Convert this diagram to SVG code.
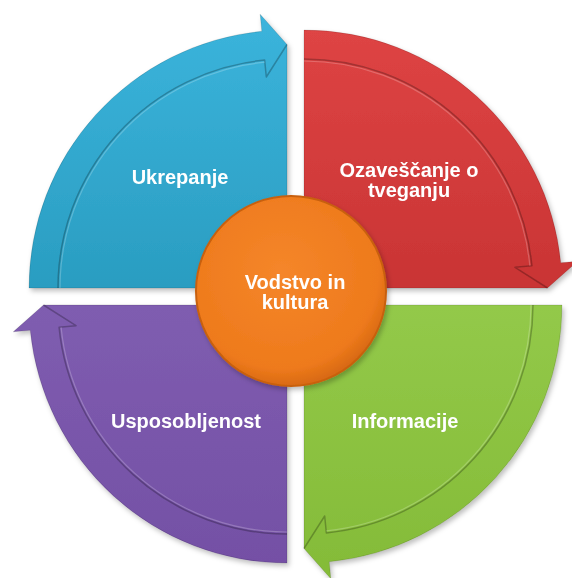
<svg xmlns="http://www.w3.org/2000/svg" width="572" height="578" viewBox="0 0 572 578">
  <defs>
    <filter id="shadow" x="-10%" y="-10%" width="125%" height="125%">
      <feDropShadow dx="2" dy="3" stdDeviation="2.5" flood-color="#000" flood-opacity="0.25"/>
    </filter>
    <linearGradient id="gBlue" x1="0" y1="0" x2="0" y2="1">
      <stop offset="0" stop-color="#3BB4DC"/>
      <stop offset="1" stop-color="#2A9DC1"/>
    </linearGradient>
    <linearGradient id="gRed" x1="0" y1="0" x2="0" y2="1">
      <stop offset="0" stop-color="#DE4444"/>
      <stop offset="1" stop-color="#C93434"/>
    </linearGradient>
    <linearGradient id="gGreen" x1="0" y1="0" x2="0" y2="1">
      <stop offset="0" stop-color="#93C949"/>
      <stop offset="1" stop-color="#84BB38"/>
    </linearGradient>
    <linearGradient id="gPurple" x1="0" y1="0" x2="0" y2="1">
      <stop offset="0" stop-color="#7F5DB0"/>
      <stop offset="1" stop-color="#7450A5"/>
    </linearGradient>
    <radialGradient id="gOrange" cx="0.45" cy="0.4" r="0.6">
      <stop offset="0" stop-color="#F5862A"/>
      <stop offset="0.85" stop-color="#EE7A1C"/>
      <stop offset="1" stop-color="#D96A12"/>
    </radialGradient>
  </defs>
  <style>
    .groove { fill: none; stroke: #000; stroke-opacity: 0.25; stroke-width: 1.5; stroke-linejoin: round; }
    .shine { fill: none; stroke: #fff; stroke-opacity: 0.22; stroke-width: 1.2; }
    .edge { stroke: #000; stroke-opacity: 0.12; stroke-width: 1; stroke-linejoin: round; }
    .label { font-family: "Liberation Sans", Arial, sans-serif; font-weight: bold; font-size: 20px; fill: #FFFFFF; text-anchor: middle; }
  </style>

  <g id="ukrepanje" filter="url(#shadow)">
    <path class="edge" fill="url(#gBlue)" d="M287,288 L29,288 A258,258 0 0 1 261.82,31.23 L260.16,14.31 L287,44.5 Z"/>
    <path class="groove" d="M58,288 A229,229 0 0 1 264.65,60.09 L266.31,77.01 L287,44.5"/>
    <path class="shine" d="M60,288 A227,227 0 0 1 264.8,62.1"/>
    <text class="label" x="180" y="184">Ukrepanje</text>
  </g>

  <g id="ozavescanje" filter="url(#shadow)">
    <path class="edge" fill="url(#gRed)" d="M304,288 L304,30 A258,258 0 0 1 560.77,262.82 L577.69,261.16 L547.5,288 Z"/>
    <path class="groove" d="M304,59 A229,229 0 0 1 531.91,265.65 L514.99,267.31 L547.5,288"/>
    <path class="shine" d="M304,61 A227,227 0 0 1 529.9,265.8"/>
    <text class="label" x="409" y="177">Ozaveščanje o</text>
    <text class="label" x="409" y="197">tveganju</text>
  </g>

  <g id="informacije" filter="url(#shadow)">
    <path class="edge" fill="url(#gGreen)" d="M304,305 L562,305 A258,258 0 0 1 329.18,561.77 L330.84,578.69 L304,548.5 Z"/>
    <path class="groove" d="M533,305 A229,229 0 0 1 326.35,532.91 L324.69,515.99 L304,548.5"/>
    <path class="shine" d="M531,305 A227,227 0 0 1 326.2,530.9"/>
    <text class="label" x="405" y="428">Informacije</text>
  </g>

  <g id="usposobljenost" filter="url(#shadow)">
    <path class="edge" fill="url(#gPurple)" d="M287,305 L287,563 A258,258 0 0 1 30.23,330.18 L13.31,331.84 L43.5,305 Z"/>
    <path class="groove" d="M287,534 A229,229 0 0 1 59.09,327.35 L76.01,325.69 L43.5,305"/>
    <path class="shine" d="M287,532 A227,227 0 0 1 61.1,327.2"/>
    <text class="label" x="186" y="428">Usposobljenost</text>
  </g>

  <g id="vodstvo" filter="url(#shadow)">
    <circle cx="291" cy="291" r="95" fill="url(#gOrange)" stroke="#C8600F" stroke-width="2"/>
    <text class="label" x="295" y="289">Vodstvo in</text>
    <text class="label" x="295" y="309">kultura</text>
  </g>
</svg>
